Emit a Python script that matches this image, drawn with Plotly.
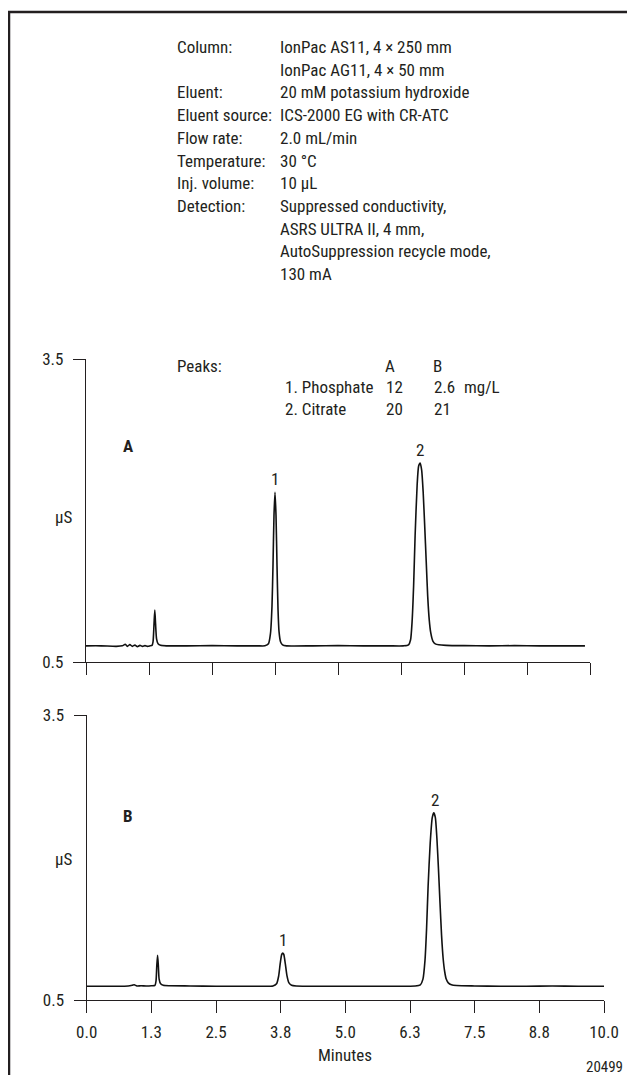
import plotly.graph_objects as go

W, H = 635, 1083          # target picture size
OX, OY = 8, 8             # default page body margin
FW, FH = W - OX, H - 2 * OY   # figure reaches the right edge, page height fits the window

# ---------------- data ----------------
tick_vals = [0.0, 1.25, 2.5, 3.75, 5.0, 6.25, 7.5, 8.75, 10.0]
tick_text = ["0.0", "1.3", "2.5", "3.8", "5.0", "6.3", "7.5", "8.8", "10.0"]
y_tick_vals = [0.5, 3.5]
y_tick_text = ["0.5", "3.5"]

a_time = [0.0, 0.3, 0.6, 0.72, 0.78, 0.82, 0.87, 0.92, 0.97, 1.02, 1.07, 1.12, 1.17, 1.22, 1.27,
          1.31, 1.33, 1.35, 1.365, 1.38, 1.40, 1.43, 1.48, 1.6, 2.0, 2.5, 3.0, 3.4, 3.55, 3.62,
          3.66, 3.69, 3.71, 3.73, 3.75, 3.77, 3.79, 3.81, 3.83, 3.86, 3.90, 3.98, 4.5, 5.0, 5.5,
          6.0, 6.3, 6.40, 6.44, 6.47, 6.50, 6.53, 6.57, 6.60, 6.63, 6.66, 6.69, 6.72, 6.75, 6.78,
          6.81, 6.84, 6.88, 6.93, 7.0, 7.15, 7.5, 8.0, 8.5, 9.0, 9.5, 9.9]
a_signal = [0.66, 0.66, 0.655, 0.66, 0.675, 0.655, 0.672, 0.655, 0.668, 0.652, 0.665, 0.655, 0.662, 0.655, 0.66,
            0.665, 0.70, 0.88, 1.015, 0.88, 0.73, 0.68, 0.665, 0.66, 0.66, 0.662, 0.66, 0.66, 0.66, 0.68,
            0.78, 1.05, 1.45, 1.95, 2.18, 1.95, 1.45, 1.02, 0.80, 0.70, 0.67, 0.66, 0.66, 0.662, 0.66,
            0.66, 0.66, 0.67, 0.72, 0.90, 1.25, 1.75, 2.25, 2.44, 2.47, 2.40, 2.18, 1.85, 1.50, 1.15,
            0.92, 0.79, 0.71, 0.68, 0.67, 0.665, 0.662, 0.66, 0.662, 0.66, 0.66, 0.66]

b_time = [0.0, 0.3, 0.6, 0.8, 0.88, 0.92, 0.97, 1.05, 1.15, 1.25, 1.32, 1.34, 1.355, 1.37, 1.385,
          1.40, 1.43, 1.48, 1.6, 2.0, 2.5, 3.0, 3.4, 3.6, 3.67, 3.71, 3.74, 3.77, 3.79, 3.81,
          3.84, 3.87, 3.91, 3.96, 4.05, 4.5, 5.0, 5.5, 6.0, 6.35, 6.45, 6.50, 6.54, 6.57, 6.60,
          6.64, 6.68, 6.71, 6.74, 6.77, 6.80, 6.83, 6.86, 6.89, 6.92, 6.95, 6.99, 7.05, 7.15,
          7.5, 8.0, 8.5, 9.0, 9.5, 10.0]
b_signal = [0.645, 0.645, 0.645, 0.648, 0.655, 0.66, 0.648, 0.65, 0.648, 0.65, 0.655, 0.70, 0.86, 0.97, 0.86,
            0.72, 0.67, 0.655, 0.65, 0.648, 0.645, 0.645, 0.645, 0.648, 0.67, 0.75, 0.88, 0.98, 0.995, 0.98,
            0.88, 0.76, 0.68, 0.655, 0.648, 0.645, 0.645, 0.645, 0.645, 0.648, 0.66, 0.72, 0.92, 1.25, 1.70,
            2.15, 2.42, 2.47, 2.42, 2.20, 1.88, 1.52, 1.18, 0.94, 0.80, 0.72, 0.68, 0.66, 0.652,
            0.648, 0.645, 0.645, 0.647, 0.645, 0.645]

cond_labels = ["Column:", "", "Eluent:", "Eluent source:", "Flow rate:", "Temperature:",
               "Inj. volume:", "Detection:", "", "", ""]
cond_values = ["IonPac AS11, 4 × 250 mm", "IonPac AG11, 4 × 50 mm", "20 mM potassium hydroxide",
               "ICS-2000 EG with CR-ATC", "2.0 mL/min", "30 °C", "10 µL",
               "Suppressed conductivity,", "ASRS ULTRA II, 4 mm,",
               "AutoSuppression recycle mode,", "130 mA"]

peak_names = ["1. Phosphate", "2. Citrate"]
conc_a = ["12", "20"]
conc_b = ["2.6", "21"]
conc_unit = "mg/L"
sample_names = ["A", "B"]
peak_labels_a = [("1", 3.75, 2.18), ("2", 6.63, 2.47)]
peak_labels_b = [("1", 3.79, 0.995), ("2", 6.73, 2.47)]
y_unit = "µS"
x_title = "Minutes"
fig_id = "20499"

# ---------------- style ----------------
FONT = "Liberation Sans Narrow, Arial Narrow, Roboto Condensed, Roboto, sans-serif"
INK = "#231f20"
FS = 17


def px(x):
    return (x - OX) / FW


def py(y):
    return 1 - (y - OY) / FH


fig = go.Figure()
fig.add_trace(go.Scatter(x=a_time, y=a_signal, mode="lines", xaxis="x", yaxis="y",
                         line=dict(color="#111111", width=1.6, shape="spline", smoothing=0.6),
                         hoverinfo="skip", showlegend=False))
fig.add_trace(go.Scatter(x=b_time, y=b_signal, mode="lines", xaxis="x2", yaxis="y2",
                         line=dict(color="#111111", width=1.6, shape="spline", smoothing=0.6),
                         hoverinfo="skip", showlegend=False))

axis_common = dict(showline=True, linecolor=INK, linewidth=1.3, ticks="outside", ticklen=12,
                   tickwidth=1.3, tickcolor=INK, showgrid=False, zeroline=False, fixedrange=True,
                   automargin=False, tickfont=dict(family=FONT, size=FS, color=INK))

fig.update_layout(
    width=FW, height=FH, margin=dict(l=0, r=0, t=0, b=0, pad=0, autoexpand=False),
    paper_bgcolor="white", plot_bgcolor="white",
    font=dict(family=FONT, size=FS, color=INK),
    xaxis=dict(domain=[px(86), px(590)], range=[0, 10], anchor="y", tickvals=tick_vals,
               ticktext=tick_text, showticklabels=False, **axis_common),
    yaxis=dict(domain=[py(662), py(359)], range=[0.5, 3.5], anchor="x", tickvals=y_tick_vals,
               ticktext=y_tick_text, ticklabelstandoff=6, **axis_common),
    xaxis2=dict(domain=[px(86.7), px(604)], range=[0, 10], anchor="y2", tickvals=tick_vals,
                ticktext=tick_text, ticklabelstandoff=4, **axis_common),
    yaxis2=dict(domain=[py(1000), py(715)], range=[0.5, 3.5], anchor="x2", tickvals=y_tick_vals,
                ticktext=y_tick_text, ticklabelstandoff=6, **axis_common),
)

ann = []


def text(x, y, s, xanchor="left", size=FS, bold=False):
    ann.append(dict(x=px(x), y=py(y), xref="paper", yref="paper", text=("<b>%s</b>" % s) if bold else s,
                    showarrow=False, xanchor=xanchor, yanchor="middle",
                    font=dict(family=FONT, size=size, color=INK)))


# conditions block
row0, step = 47, 22.7
for i, (lab, val) in enumerate(zip(cond_labels, cond_values)):
    yy = row0 + i * step
    if lab:
        text(175, yy, lab)
    text(278, yy, val)

# peaks table
text(175, 366, "Peaks:")
text(390, 366, sample_names[0], xanchor="center")
text(437, 366, sample_names[1], xanchor="center")
for i, name in enumerate(peak_names):
    yy = 387 + i * 22
    text(283, yy, name)
    text(384, yy, conc_a[i])
    text(432, yy, conc_b[i])
text(462, 387, conc_unit)

# sample letters and units
text(128, 446, sample_names[0], xanchor="center", bold=True)
text(128, 816, sample_names[1], xanchor="center", bold=True)
text(63, 517, y_unit, xanchor="center")
text(63, 859, y_unit, xanchor="center")

# peak labels (anchored to data)
for lab, t, v in peak_labels_a:
    ann.append(dict(x=t, y=v, xref="x", yref="y", text=lab, showarrow=False, yanchor="bottom",
                    yshift=1, font=dict(family=FONT, size=FS, color=INK)))
for lab, t, v in peak_labels_b:
    ann.append(dict(x=t, y=v, xref="x2", yref="y2", text=lab, showarrow=False, yanchor="bottom",
                    yshift=1, font=dict(family=FONT, size=FS, color=INK)))

text(345, 1055, x_title, xanchor="center")
text(625, 1067, fig_id, xanchor="right", size=15)

fig.update_layout(annotations=ann)

# frame (top and left edges)
fig.update_layout(shapes=[
    dict(type="line", xref="paper", yref="paper", x0=px(8), x1=1, y0=py(12), y1=py(12),
         line=dict(color=INK, width=2.5)),
    dict(type="line", xref="paper", yref="paper", x0=px(9), x1=px(9), y0=py(11), y1=0,
         line=dict(color=INK, width=2.5)),
])

fig.write_html("out.html")
